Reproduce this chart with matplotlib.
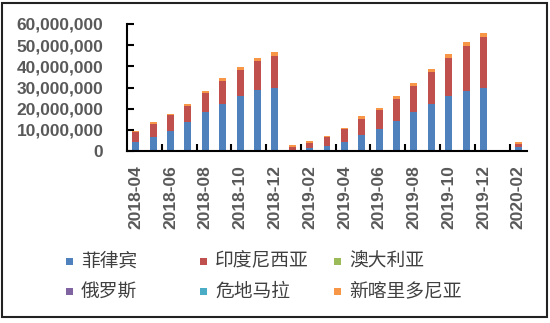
import numpy as np
import matplotlib.pyplot as plt
from matplotlib.patches import Rectangle

plt.rcParams['font.family'] = ['Liberation Sans', 'Noto Sans CJK SC', 'DejaVu Sans']

months = ['2018-04', '2018-05', '2018-06', '2018-07', '2018-08', '2018-09', '2018-10',
          '2018-11', '2018-12', '2019-01', '2019-02', '2019-03', '2019-04', '2019-05',
          '2019-06', '2019-07', '2019-08', '2019-09', '2019-10', '2019-11', '2019-12',
          '2020-01', '2020-02']
nan = np.nan
# values in millions
philippines = [4.4, 6.7, 9.5, 13.5, 18.2, 22.1, 26.0, 28.6, 29.9, 0.5, 1.6, 2.5, 4.1,
               7.5, 10.6, 14.2, 18.2, 22.4, 25.8, 28.3, 29.9, nan, 2.0]
indonesia = [4.4, 6.0, 7.4, 7.8, 9.0, 10.9, 12.4, 13.7, 14.8, 1.5, 2.3, 3.9, 6.1,
             7.8, 8.6, 10.5, 12.3, 15.0, 18.2, 21.3, 23.8, nan, 1.4]
australia = [0.0] * 21 + [nan, 0.0]
russia = [0.0] * 21 + [nan, 0.0]
guatemala = [0.0] * 21 + [nan, 0.0]
new_caledonia = [0.7, 0.8, 0.8, 1.1, 1.3, 1.4, 1.5, 1.7, 1.9, 0.7, 0.8, 0.8, 0.7,
                 1.1, 1.1, 1.4, 1.6, 1.4, 1.9, 2.0, 2.0, nan, 0.7]

names = ['菲律宾', '印度尼西亚', '澳大利亚', '俄罗斯', '危地马拉', '新喀里多尼亚']
colors = ['#4F81BD', '#C0504D', '#9BBB59', '#8064A2', '#4BACC6', '#F79646']
series = [philippines, indonesia, australia, russia, guatemala, new_caledonia]

fig = plt.figure(figsize=(5.5, 3.23), dpi=100)
ax = fig.add_axes([127 / 550, 1 - 151 / 323, 400 / 550, 127 / 323])

x = np.arange(len(months))
bottom = np.zeros(len(months))
for vals, c in zip(series, colors):
    v = np.nan_to_num(np.array(vals, dtype=float)) * 1e6
    ax.bar(x, v, 0.4, bottom=bottom, color=c, linewidth=0)
    bottom += v

ax.set_xlim(-0.5, len(months) - 0.5)
ax.set_ylim(0, 60e6)
ax.set_yticks(np.arange(0, 60e6 + 1, 10e6))
ax.set_yticklabels([f'{int(t):,}' for t in np.arange(0, 60e6 + 1, 10e6)],
                   fontsize=12.5, fontweight='bold', color='#595959')
ax.tick_params(axis='y', direction='in', length=5, width=1.5, pad=17)

ax.set_xticks(x[::2])
ax.set_xticklabels(months[::2], rotation=90, fontsize=12.5, fontweight='bold',
                   color='#595959')
ax.tick_params(axis='x', length=0, pad=10)
ax.set_xticks(np.arange(1.5, len(months) - 1, 2), minor=True)
ax.tick_params(axis='x', which='minor', direction='in', length=5, width=1.5)

for s in ['top', 'right']:
    ax.spines[s].set_visible(False)
for s in ['left', 'bottom']:
    ax.spines[s].set_linewidth(1.5)
    ax.spines[s].set_color('black')

# legend, 2 rows x 3 columns
col_x = [66, 200, 334]
row_y = [261, 291]
for i, (n, c) in enumerate(zip(names, colors)):
    cx = col_x[i % 3]
    cy = row_y[i // 3]
    fig.add_artist(Rectangle((cx / 550, 1 - (cy + 3.5) / 323), 7 / 550, 7 / 323,
                             transform=fig.transFigure, color=c, lw=0))
    fig.text((cx + 15) / 550, 1 - cy / 323, n, fontsize=13.5, color='#404040',
             va='center', ha='left', fontweight='medium',
             family=['Noto Sans CJK SC', 'DejaVu Sans'])

# outer border
fig.add_artist(Rectangle((2 / 550, 1 - 317 / 323), 545 / 550, 314 / 323,
                         transform=fig.transFigure, fill=False, ec='#222222', lw=1.5))

fig.savefig('out.png', dpi=100)
